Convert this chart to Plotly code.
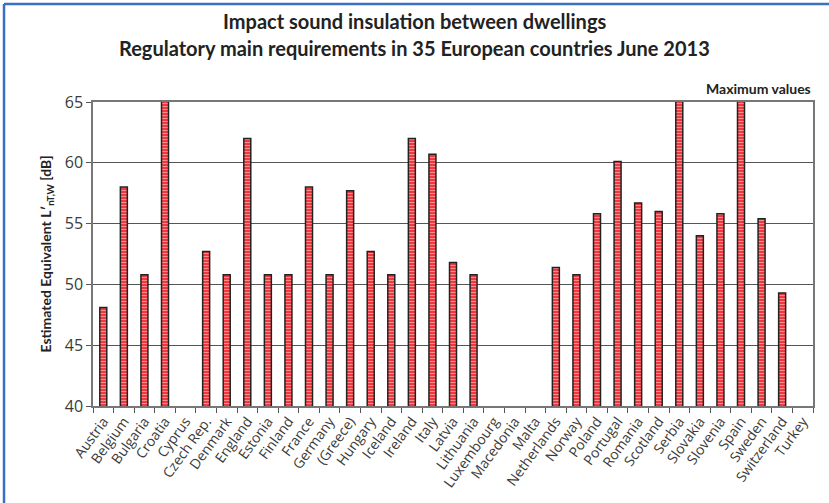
import plotly.graph_objects as go

countries = ["Austria", "Belgium", "Bulgaria", "Croatia", "Cyprus", "Czech Rep.", "Denmark",
             "England", "Estonia", "Finland", "France", "Germany", "(Greece)", "Hungary",
             "Iceland", "Ireland", "Italy", "Latvia", "Lithuania", "Luxembourg", "Macedonia",
             "Malta", "Netherlands", "Norway", "Poland", "Portugal", "Romania", "Scotland",
             "Serbia", "Slovakia", "Slovenia", "Spain", "Sweden", "Switzerland", "Turkey"]
values = [48.1, 58.0, 50.8, 66.0, None, 52.7, 50.8,
          62.0, 50.8, 50.8, 58.0, 50.8, 57.7, 52.7,
          50.8, 62.0, 60.7, 51.8, 50.8, None, None,
          None, 51.4, 50.8, 55.8, 60.1, 56.7, 56.0,
          66.0, 54.0, 55.8, 66.0, 55.4, 49.3, None]
y_ticks = [40, 45, 50, 55, 60, 65]
title_lines = ["Impact sound insulation between dwellings",
               "Regulatory main requirements in 35 European countries June 2013"]

FONT = "Lato"
TICKFONT = "Open Sans"

fig = go.Figure()
fig.add_trace(go.Bar(
    x=countries, y=values, width=0.34,
    marker=dict(color="#ee1c24",
                line=dict(color="#222222", width=1.5),
                pattern=dict(shape="-", bgcolor="#ee1c24", fgcolor="#ffffff",
                             size=3, solidity=0.5, fillmode="overlay")),
    hoverinfo="x+y",
))

fig.update_layout(
    width=829, height=503,
    margin=dict(l=93, r=16, t=102, b=94),
    paper_bgcolor="white", plot_bgcolor="white",
    showlegend=False,
    font=dict(family=FONT, color="#333333"),
    xaxis=dict(type="category", tickangle=-54, tickson="boundaries", ticks="outside",
               ticklen=5, tickcolor="#555555", showline=True, linecolor="#777777",
               linewidth=1.5, mirror=True, showgrid=False,
               tickfont=dict(family=TICKFONT, size=14, color="#3a3a3a"),
               range=[-0.5, len(countries) - 0.5]),
    yaxis=dict(range=[40, 65], tickvals=y_ticks, ticks="outside", ticklen=5,
               tickcolor="#555555", showline=True, linecolor="#777777", linewidth=1.5,
               mirror=True, showgrid=True, gridcolor="#555555", gridwidth=1,
               zeroline=False,
               tickfont=dict(family=TICKFONT, size=16, color="#3a3a3a"),
               title=dict(text="<b>Estimated Equivalent L′<sub>nT,W</sub> [dB]</b>",
                          font=dict(family=FONT, size=14, color="#222222"), standoff=10)),
    bargap=0.66,
)

# title lines (centred on the figure)
for i, line in enumerate(title_lines):
    fig.add_annotation(text="<b>" + line + "</b>", xref="paper", yref="paper",
                       x=(414.5 - 93) / 720, y=1.0, xanchor="center", yanchor="middle",
                       yshift=102 - [21, 48][i], showarrow=False,
                       font=dict(family=FONT, size=20, color="#222222"))

fig.add_annotation(text="<b>Maximum values</b>", xref="paper", yref="paper",
                   x=1.0, y=1.0, xanchor="right", yanchor="bottom", yshift=3,
                   showarrow=False, font=dict(family=FONT, size=14, color="#222222"))

# blue frame (top and left edges)
fig.add_shape(type="line", xref="paper", yref="paper", x0=-0.1236, x1=1.03, y0=1.3225, y1=1.3225,
              line=dict(color="#3a6fc4", width=2.5))
fig.add_shape(type="line", xref="paper", yref="paper", x0=-0.1236, x1=-0.1236, y0=-0.32, y1=1.3225,
              line=dict(color="#3a6fc4", width=2.5))

fig.write_html("out.html", config={"displayModeBar": False},
               post_script="document.body.style.margin='0';")
